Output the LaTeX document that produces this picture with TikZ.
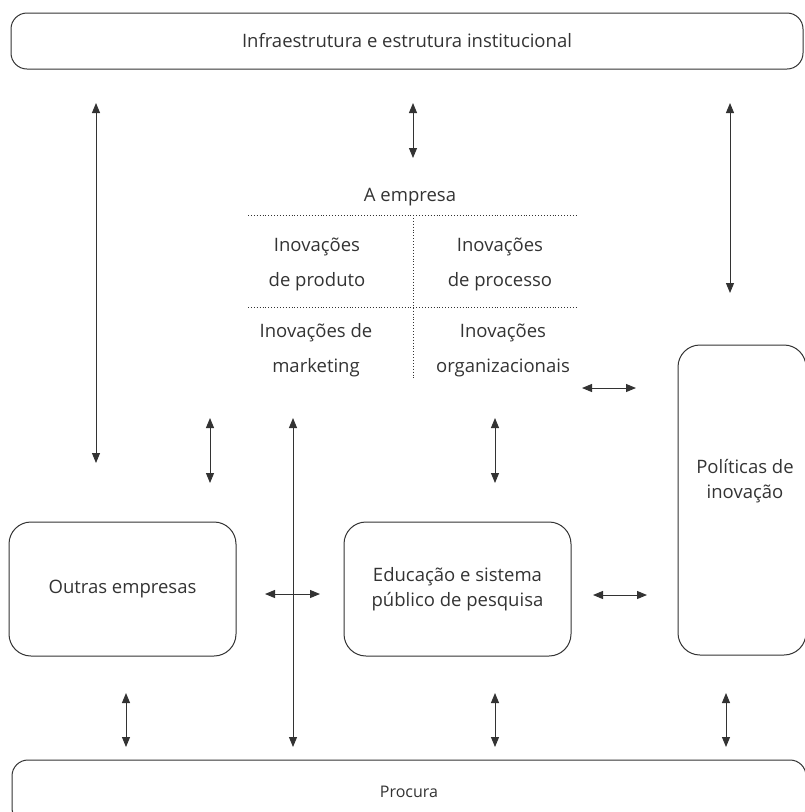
\documentclass[tikz,border=0pt]{standalone}
\usepackage{fontspec}
\setmainfont{Open Sans}
\usepackage{tkz-euclide}
\usetikzlibrary{arrows.meta}

\begin{document}
\begin{tikzpicture}[x=1pt,y=-1pt,line width=1pt,color=black!80,
  >={Triangle[length=10pt,width=8pt]},
  txt/.style={font=\fontsize{18.5}{22}\selectfont,align=center},
  caixa/.style={draw,rounded corners=22pt,inner sep=0pt,txt},
  pontos/.style={dotted,line width=0.9pt}]
\useasboundingbox (0,0) rectangle (805,812);
\node[caixa,rounded corners=16pt,minimum width=792pt,minimum height=56pt] (infra) at (407,41) {Infraestrutura e estrutura institucional};
\node[caixa,rounded corners=16pt,minimum width=794pt,minimum height=64pt,font=\fontsize{16}{20}\selectfont] (procura) at (409,792) {Procura};
\node[caixa,minimum width=227pt,minimum height=134pt] (outras) at (122.5,589) {Outras empresas};
\node[caixa,minimum width=227pt,minimum height=134pt,font=\fontsize{18.5}{25}\selectfont] (educ) at (457.5,589) {Educação e sistema\\público de pesquisa};
\node[caixa,minimum width=128pt,minimum height=310pt] (polit) at (742,500) {};
\node[txt,font=\fontsize{18.5}{25}\selectfont] (politxt) at (745,481) {Políticas de\\inovação};
% a empresa
\node[txt] (empresa) at (410,197) {A empresa};
\node[txt,font=\fontsize{18.5}{35}\selectfont] (produto) at (317,264) {Inovações\\de produto};
\node[txt,font=\fontsize{18.5}{35}\selectfont] (processo) at (500,264) {Inovações\\de processo};
\node[txt,font=\fontsize{18.5}{35}\selectfont] (marketing) at (316,350) {Inovações de\\marketing};
\node[txt,font=\fontsize{18.5}{35}\selectfont] (organiz) at (503,350) {Inovações\\organizacionais};
\tkzDefPoints{248/215/L1,576/215/L2,248/307/M1,576/307/M2,413/215/V1,413/378/V2}
\draw[pontos](L1)--(L2)(M1)--(M2)(V1)--(V2);
% setas
\tkzDefPoints{96/103/A,96/463/B,413/103/C,413/158/D,730/103/E,730/293/F,582/388/G,636/388/H,
210/418/I,210/483/J,293/418/K,293/747/L,495/418/M,495/483/N,265/594/O,320/594/P,
593/595/Q,647/595/R,126/693/S,126/747/T,495/693/U,495/747/V,726/693/W,726/747/X}
\foreach \p/\q in {A/B,C/D,E/F,G/H,I/J,K/L,M/N,O/P,Q/R,S/T,U/V,W/X}
  \draw[<->](\p)--(\q);
\end{tikzpicture}
\end{document}
